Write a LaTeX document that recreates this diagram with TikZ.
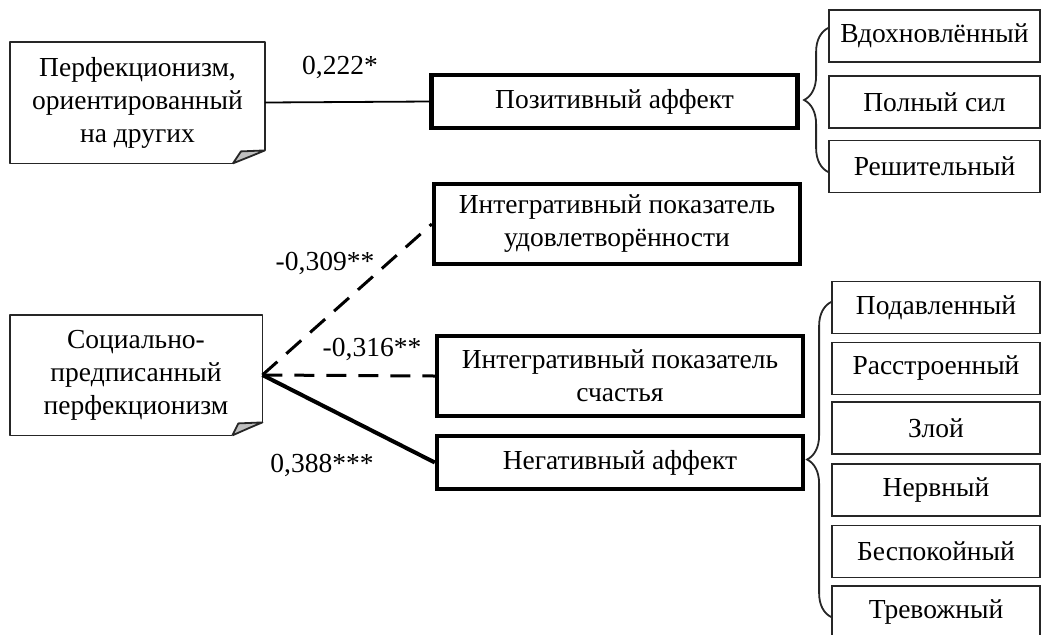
\documentclass[tikz,border=0pt]{standalone}
\usepackage{fontspec}
\setmainfont{Liberation Serif}
\usetikzlibrary{decorations.pathreplacing}
\tikzset{
    mainfont/.style={font=\fontsize{13.75}{16.5}\selectfont, align=center, inner sep=0pt},
    thickbox/.style={mainfont, shape=rectangle, draw=black, line width=2.2pt, minimum width=183pt},
    itembox/.style={mainfont, shape=rectangle, draw=black!85, line width=0.9pt, minimum height=26pt},
    notebox/.style={mainfont, shape=rectangle, minimum width=127pt, minimum height=60.5pt},
    noteline/.style={draw=black!85, line width=0.9pt, line join=round},
    foldfill/.style={noteline, fill=black!25},
    dashline/.style={line width=1.5pt, dash pattern=on 10pt off 6pt},
    boldline/.style={line width=2pt},
    braceline/.style={draw=black!85, line width=0.9pt, decorate, decoration={brace, amplitude=12pt}}
}

\begin{document}
\begin{tikzpicture}[x=0.5pt, y=-0.5pt]
    \useasboundingbox (0,0) rectangle (1046,634);
    \clip (0,0) rectangle (1046,634);

    \node[notebox] (1) at (137.5,102.5) {Перфекционизм,\\ориентированный\\на других};
    \draw[noteline] ([xshift=-16pt]1.south east) -- (1.south west) -- (1.north west)
        -- (1.north east) -- ([yshift=6.5pt]1.south east);
    \draw[foldfill] ([xshift=-16pt]1.south east) .. controls ([xshift=-14pt,yshift=3pt]1.south east) .. ([xshift=-12pt,yshift=6pt]1.south east)
        -- ([yshift=6.5pt]1.south east) .. controls ([xshift=-6pt,yshift=4pt]1.south east) .. ([xshift=-16pt]1.south east);

    \node[notebox, minimum width=126pt, minimum height=60pt] (2) at (136,375) {Социально-\\предписанный\\перфекционизм};
    \draw[noteline] ([xshift=-15pt]2.south east) -- (2.south west) -- (2.north west)
        -- (2.north east) -- ([yshift=6.5pt]2.south east);
    \draw[foldfill] ([xshift=-15pt]2.south east) .. controls ([xshift=-13.5pt,yshift=3pt]2.south east) .. ([xshift=-12pt,yshift=6pt]2.south east)
        -- ([yshift=6.5pt]2.south east) .. controls ([xshift=-6pt,yshift=4pt]2.south east) .. ([xshift=-15pt]2.south east);

    \node[thickbox, minimum height=26.5pt] (3) at (614.5,101.5) {Позитивный аффект};
    \node[thickbox, minimum height=40pt] (4) at (617,224) {Интегративный показатель\\удовлетворённости};
    \node[thickbox, minimum height=40pt] (5) at (620,376) {Интегративный показатель\\счастья};
    \node[thickbox, minimum height=26.5pt] (6) at (620,462.5) {Негативный аффект};

    \node[itembox, minimum width=105.5pt] (7) at (934.5,36) {Вдохновлённый};
    \node[itembox, minimum width=105.5pt] (8) at (934.5,102) {Полный сил};
    \node[itembox, minimum width=105.5pt] (9) at (934.5,166.5) {Решительный};

    \node[itembox, minimum width=104pt] (10) at (936,307.5) {Подавленный};
    \node[itembox, minimum width=104pt] (11) at (936,368.5) {Расстроенный};
    \node[itembox, minimum width=104pt] (12) at (936,428) {Злой};
    \node[itembox, minimum width=104pt] (13) at (936,490) {Нервный};
    \node[itembox, minimum width=104pt] (14) at (936,551.5) {Беспокойный};
    \node[itembox, minimum width=104pt] (15) at (936,612) {Тревожный};

    \node[mainfont] at (340,67) {0,222*};
    \node[mainfont] at (325,263) {-0,309**};
    \node[mainfont] at (372,349) {-0,316**};
    \node[mainfont] at (322,465) {0,388***};

    \path [line width=0.9pt](1.east) edge (3.west);
    \path [dashline](2.east) edge (4.west);
    \path [dashline](2.east) edge (5.west);
    \path [boldline](2.east) edge (6.west);

    \draw[braceline] ([yshift=-2.75pt]9.west) -- ([yshift=4pt]7.west);
    \draw[braceline] ([yshift=-2.5pt]15.west) -- ([yshift=2.75pt]10.west);
\end{tikzpicture}
\end{document}
